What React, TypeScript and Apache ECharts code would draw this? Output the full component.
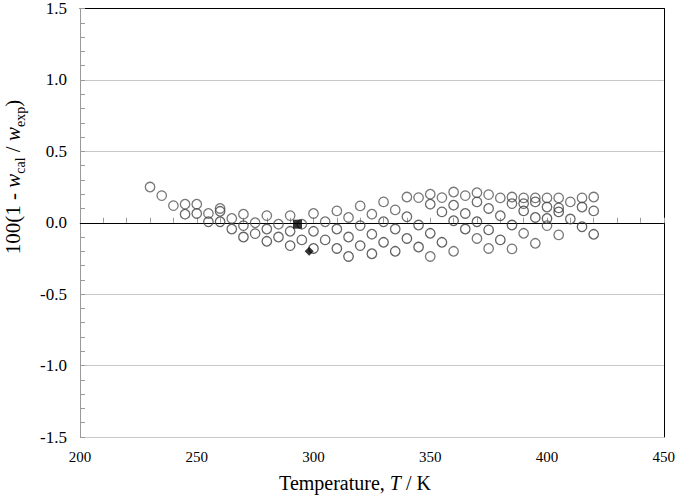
import React, { useEffect, useRef } from "react";
import * as echarts from "echarts";

// Temperature (K) and deviation 100(1 - w_cal/w_exp)
const row1T = [230, 235, 240, 245, 250, 255, 260, 265, 270, 275, 280, 285, 290, 295, 300, 305, 310, 315, 320, 325, 330, 335, 340, 345, 350, 355, 360, 365, 370, 375, 380, 385, 390, 395, 400, 405, 410, 415, 420];
const row1D = [0.25, 0.19, 0.12, 0.13, 0.13, 0.065, 0.10, 0.03, 0.06, 0.0, 0.05, -0.01, 0.05, -0.01, 0.065, 0.007, 0.083, 0.037, 0.118, 0.06, 0.146, 0.09, 0.18, 0.176, 0.2, 0.176, 0.215, 0.19, 0.21, 0.197, 0.174, 0.18, 0.174, 0.174, 0.174, 0.174, 0.146, 0.174, 0.18];

const row2T = [245, 250, 255, 260, 265, 270, 275, 280, 285, 290, 295, 300, 305, 310, 315, 320, 325, 330, 335, 340, 345, 350, 355, 360, 365, 370, 375, 380, 385, 390, 395, 400, 405, 410, 415, 420];
const row2D = [0.06, 0.065, 0.007, 0.08, -0.044, -0.02, -0.076, -0.044, -0.10, -0.06, -0.12, -0.06, -0.12, -0.044, -0.10, -0.02, -0.08, 0.007, -0.044, 0.042, -0.016, 0.13, 0.076, 0.123, 0.065, 0.146, 0.1, 0.049, 0.134, 0.134, 0.146, 0.11, 0.104, 0.026, 0.11, 0.083];

const row3T = [260, 270, 280, 290, 300, 310, 315, 320, 325, 330, 335, 340, 345, 350, 355, 360, 365, 370, 375, 380, 385, 390, 395, 400, 405, 415, 420];
const row3D = [0.007, -0.10, -0.13, -0.16, -0.18, -0.18, -0.236, -0.16, -0.217, -0.137, -0.2, -0.11, -0.17, -0.074, -0.137, 0.014, -0.044, 0.007, -0.05, -0.12, -0.016, 0.083, 0.037, 0.03, 0.076, -0.028, -0.081];

const row4T = [350, 360, 370, 375, 385, 390, 395, 400, 405];
const row4D = [-0.236, -0.2, -0.11, -0.18, -0.183, -0.074, -0.144, -0.02, -0.085];

const squareT = [293.15];
const squareD = [-0.01];
const diamondT = [298.15];
const diamondD = [-0.2];

const xTicks = [200, 250, 300, 350, 400, 450];
const yTicks = [-1.5, -1.0, -0.5, 0.0, 0.5, 1.0, 1.5];

const zip = (xs: number[], ys: number[]) => xs.map((x, i) => [x, ys[i]]);

const SERIF = "Liberation Serif";

export default function App() {
  const ref = useRef<HTMLDivElement>(null);
  useEffect(() => {
    if (!ref.current) return;
    const chart = echarts.init(ref.current, undefined, { renderer: "svg" });
    const circleSeries = (name: string, xs: number[], ys: number[], color: string) => ({
      name,
      type: "scatter",
      data: zip(xs, ys),
      symbol: "circle",
      symbolSize: 9.5,
      itemStyle: { color: "rgba(255,255,255,0)", borderColor: color, borderWidth: 1.3 },
      z: 3,
    });
    chart.setOption({
      animation: false,
      textStyle: { fontFamily: SERIF, color: "#000" },
      grid: { left: 80, right: 13, top: 7, bottom: 58, containLabel: false },
      xAxis: [
        {
          type: "value",
          min: xTicks[0],
          max: xTicks[xTicks.length - 1],
          interval: 50,
          axisLine: { show: true, lineStyle: { color: "#9a9a9a", width: 1 } },
          axisTick: { show: true, inside: true, length: 5, lineStyle: { color: "#9a9a9a" } },
          minorTick: { show: true, splitNumber: 5, length: 5, lineStyle: { color: "#9a9a9a" } },
          splitLine: { show: false },
          axisLabel: { show: true, color: "#000", fontFamily: SERIF, fontSize: 15, margin: 12 },
        },
        {
          type: "value",
          position: "top",
          min: xTicks[0],
          max: xTicks[xTicks.length - 1],
          axisLine: { show: true, onZero: false, lineStyle: { color: "#000", width: 1 } },
          axisTick: { show: false },
          axisLabel: { show: false },
          splitLine: { show: false },
        },
      ],
      yAxis: [
        {
          type: "value",
          min: yTicks[0],
          max: yTicks[yTicks.length - 1],
          interval: 0.5,
          axisLine: { show: true, onZero: false, lineStyle: { color: "#9a9a9a", width: 1 } },
          axisTick: { show: true, inside: true, length: 5, lineStyle: { color: "#9a9a9a" } },
          minorTick: { show: true, splitNumber: 5, length: 5, lineStyle: { color: "#9a9a9a" } },
          splitLine: { show: true, lineStyle: { color: "#c8c8c8", width: 1 } },
          axisLabel: {
            show: true,
            color: "#000",
            fontFamily: SERIF,
            fontSize: 17,
            lineHeight: 13,
            margin: 13,
            formatter: (v: number) => v.toFixed(1),
          },
        },
        {
          type: "value",
          position: "right",
          min: yTicks[0],
          max: yTicks[yTicks.length - 1],
          axisLine: { show: true, onZero: false, lineStyle: { color: "#000", width: 1 } },
          axisTick: { show: false },
          axisLabel: { show: false },
          splitLine: { show: false },
        },
      ],
      series: [
        {
          ...circleSeries("set 1", row1T, row1D, "#555"),
          markLine: {
            silent: true,
            symbol: "none",
            label: { show: false },
            lineStyle: { color: "#000", width: 1.2, type: "solid" },
            data: [{ yAxis: 0 }],
            z: 2,
          },
        },
        circleSeries("set 2", row2T, row2D, "#444"),
        circleSeries("set 3", row3T, row3D, "#3a3a3a"),
        circleSeries("set 4", row4T, row4D, "#555"),
        {
          name: "square",
          type: "scatter",
          data: zip(squareT, squareD),
          symbol: "rect",
          symbolSize: 9,
          itemStyle: { color: "#000" },
          z: 5,
        },
        {
          name: "diamond",
          type: "scatter",
          data: zip(diamondT, diamondD),
          symbol: "diamond",
          symbolSize: 9,
          itemStyle: { color: "#000" },
          z: 5,
        },
      ],
      graphic: [
        {
          type: "text",
          x: 13,
          y: 177,
          rotation: Math.PI / 2,
          silent: true,
          style: {
            text: "100(1 - {i|w}{s|cal} / {i|w}{s|exp})",
            fontFamily: SERIF,
            fontSize: 21,
            lineHeight: 28,
            fill: "#000",
            align: "center",
            verticalAlign: "middle",
            rich: {
              i: { fontStyle: "italic", fontFamily: SERIF, fontSize: 21, lineHeight: 28 },
              s: { fontFamily: SERIF, fontSize: 14, lineHeight: 16, verticalAlign: "bottom" },
            },
          },
        },
        {
          type: "text",
          x: 355,
          y: 483,
          silent: true,
          style: {
            text: "Temperature, {i|T} / K",
            fontFamily: SERIF,
            fontSize: 20,
            fill: "#000",
            align: "center",
            verticalAlign: "middle",
            rich: {
              i: { fontStyle: "italic", fontFamily: SERIF, fontSize: 20 },
            },
          },
        },
      ],
    });
    return () => chart.dispose();
  }, []);
  return (
    <div
      ref={ref}
      style={{ position: "fixed", left: 0, top: 0, width: 678, height: 495, background: "#fff" }}
    />
  );
}
